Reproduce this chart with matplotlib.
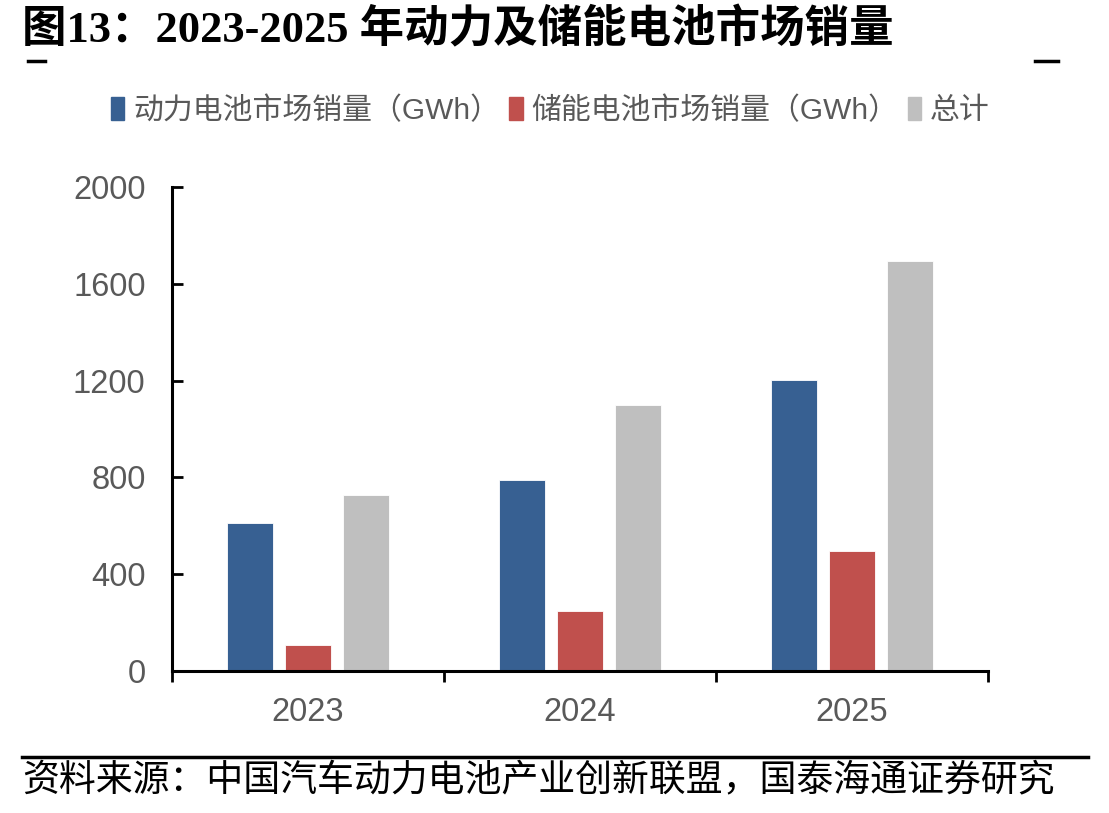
import matplotlib
matplotlib.use("Agg")
import matplotlib.pyplot as plt
from matplotlib.patches import Rectangle
from matplotlib.lines import Line2D
import numpy as np

plt.rcParams['font.family'] = ['Liberation Sans', 'Noto Sans CJK SC', 'DejaVu Sans']

years = ['2023', '2024', '2025']
power = [611, 789, 1202]
storage = [107, 248, 496]
total = [727, 1099, 1694]
series_names = ['动力电池市场销量（GWh）', '储能电池市场销量（GWh）', '总计']
colors = ['#376092', '#C0504D', '#BFBFBF']
yticks = [0, 400, 800, 1200, 1600, 2000]

W, H = 1109, 813
fig = plt.figure(figsize=(W / 100, H / 100), dpi=100)
ax = fig.add_axes([172 / W, 1 - 671 / H, (988 - 172) / W, (671 - 187) / H])

x = np.arange(len(years))
bw = 0.166
off = 0.213
for i, (vals, c) in enumerate(zip([power, storage, total], colors)):
    ax.bar(x + (i - 1) * off, vals, width=bw, color=c, edgecolor='white', linewidth=0.6, zorder=2)

ax.set_xlim(-0.5, 2.5)
ax.set_ylim(0, 2000)
ax.set_yticks(yticks)
ax.set_yticklabels([str(v) for v in yticks])
ax.set_xticks(x)
ax.set_xticklabels(years)
ax.set_xticks([-0.5, 0.5, 1.5, 2.5], minor=True)
ax.tick_params(axis='x', which='major', length=0, pad=19, labelsize=23.5, labelcolor='#595959')
ax.tick_params(axis='x', which='minor', length=8, width=2, direction='out', color='black')
ax.tick_params(axis='y', which='major', length=8, width=2, direction='in', pad=19, labelsize=23.5, labelcolor='#595959')
for s in ['top', 'right']:
    ax.spines[s].set_visible(False)
for s in ['left', 'bottom']:
    ax.spines[s].set_linewidth(2.2)
    ax.spines[s].set_color('black')

# Legend
handles = [Rectangle((0, 0), 1, 1, color=c) for c in colors]
leg = fig.legend(handles, series_names, loc='center left', bbox_to_anchor=(111 / W, 1 - 111 / H),
                 ncol=3, frameon=False, handlelength=0.45, handleheight=0.8, handletextpad=0.3,
                 columnspacing=0.3, borderaxespad=0, borderpad=0,
                 prop={'family': ['Liberation Sans', 'Noto Sans CJK SC'], 'size': 21.5})
for t in leg.get_texts():
    t.set_color('#595959')

# Title
fig.text(22 / W, 1 - 30 / H, '图13：2023-2025 年动力及储能电池市场销量', fontsize=32, fontweight='bold',
         family=['Liberation Serif', 'Noto Sans CJK SC'], va='center', ha='left', color='black')
fig.add_artist(Line2D([28 / W, 45 / W], [1 - 61 / H, 1 - 61 / H], color='black', linewidth=2.5))
fig.add_artist(Line2D([1035 / W, 1058 / W], [1 - 61 / H, 1 - 61 / H], color='black', linewidth=2.5))

# Bottom rule and source
fig.add_artist(Line2D([22 / W, 1088 / W], [1 - 757 / H, 1 - 757 / H], color='black', linewidth=2.5))
fig.text(22 / W, 1 - 781 / H, '资料来源：中国汽车动力电池产业创新联盟，国泰海通证券研究', fontsize=26.6,
         family=['Noto Sans CJK SC'], va='center', ha='left', color='black')

fig.savefig('out.png', dpi=100)
